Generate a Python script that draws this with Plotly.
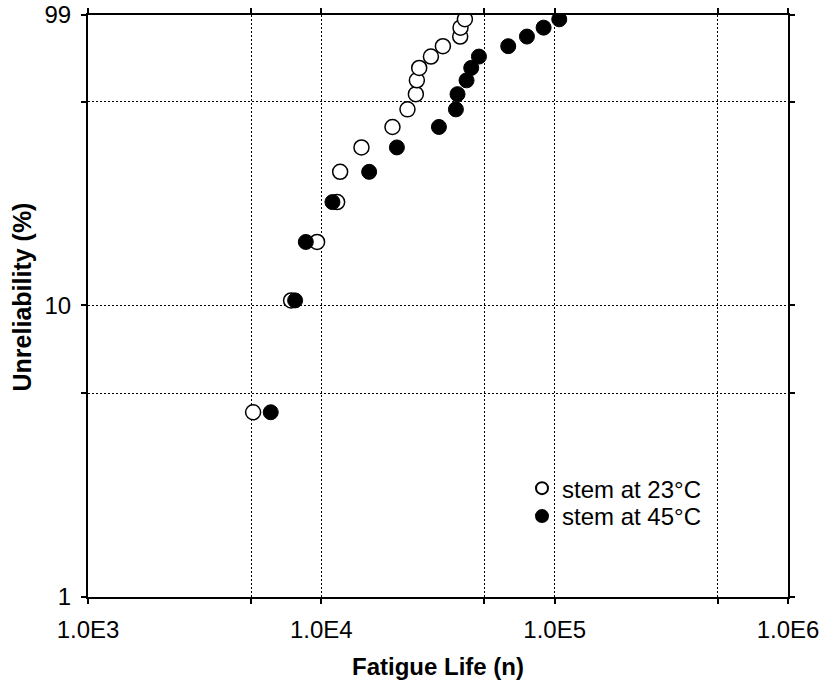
import plotly.graph_objects as go
import numpy as np

# Unreliability (%) median ranks (same for both series)
unrel_pct = [4.3, 10.4, 16.5, 22.6, 28.7, 34.8, 40.9, 47.0, 53.0, 59.1,
             65.2, 71.3, 77.4, 83.5, 89.6, 95.7]

life_23C = [5100, 7420, 9590, 11690, 12040, 14860, 20180, 23400, 25420, 25670,
            26270, 29490, 33190, 39370, 39490, 41240]
life_45C = [6070, 7720, 8580, 11160, 16030, 21080, 31910, 37740, 38340, 41910,
            43890, 47360, 63240, 76060, 89650, 104640]

series_names = ["stem at 23°C", "stem at 45°C"]

x_tickvals = [1e3, 5e3, 1e4, 5e4, 1e5, 5e5, 1e6]
x_ticktext = ["1.0E3", "", "1.0E4", "", "1.0E5", "", "1.0E6"]
y_tickvals = [1, 5, 10, 50, 99]
y_ticktext = ["1", "", "10", "", "99"]

FONT = "Arial, 'Liberation Sans', sans-serif"

fig = go.Figure()
fig.add_trace(go.Scatter(
    x=life_23C, y=unrel_pct, mode="markers", name=series_names[0],
    legend="legend",
    marker=dict(symbol="circle", size=15, color="white",
                line=dict(color="black", width=1.5)),
))
fig.add_trace(go.Scatter(
    x=life_45C, y=unrel_pct, mode="markers", name=series_names[1],
    legend="legend2",
    marker=dict(symbol="circle", size=15, color="black",
                line=dict(color="black", width=1)),
))

axis_common = dict(
    showline=True, linecolor="black", linewidth=2, mirror="allticks",
    ticks="outside", ticklen=5, tickwidth=1.5, tickcolor="black",
    showgrid=True, gridcolor="black", gridwidth=1, griddash="2px,2px",
    zeroline=False, tickfont=dict(family=FONT, size=24, color="black"),
)

fig.update_xaxes(
    type="log", range=[3, 6], tickmode="array", tickvals=x_tickvals,
    ticktext=x_ticktext, ticklabelstandoff=5,
    title=dict(text="<b>Fatigue Life (n)</b>", font=dict(family=FONT, size=24, color="black"),
               standoff=16),
    **axis_common,
)
fig.update_yaxes(
    type="log", range=[0, np.log10(99)], tickmode="array", tickvals=y_tickvals,
    ticktext=y_ticktext, ticklabelstandoff=5,
    **axis_common,
)

# y-axis title as an annotation so it can sit exactly where the reference has it
fig.add_annotation(
    text="<b>Unreliability (%)</b>", textangle=-90, showarrow=False,
    xref="paper", yref="paper", x=-0.094, y=0.515, xanchor="center", yanchor="middle",
    font=dict(family=FONT, size=25, color="black"),
)

# white backing behind the legend (covers gridlines, stays below markers)
fig.add_shape(
    type="rect", xref="paper", yref="paper", layer="between",
    x0=0.632, x1=0.894, y0=0.102, y1=0.227,
    fillcolor="white", line=dict(width=0),
)

legend_common = dict(xanchor="left", yanchor="top", bgcolor="rgba(0,0,0,0)",
                     borderwidth=0, font=dict(family=FONT, size=24, color="black"),
                     tracegroupgap=0, itemsizing="constant")

fig.update_layout(
    width=821, height=683,
    margin=dict(l=88, r=33, t=15, b=86, autoexpand=False),
    plot_bgcolor="white", paper_bgcolor="white",
    font=dict(family=FONT, size=24, color="black"),
    legend=dict(x=0.62, y=0.225, **legend_common),
    legend2=dict(x=0.62, y=0.177, **legend_common),
    showlegend=True,
)

fig.write_html("out.html", config={"displayModeBar": False},
               post_script="document.body.style.margin='0';document.body.style.padding='0';document.body.style.overflow='hidden';")
